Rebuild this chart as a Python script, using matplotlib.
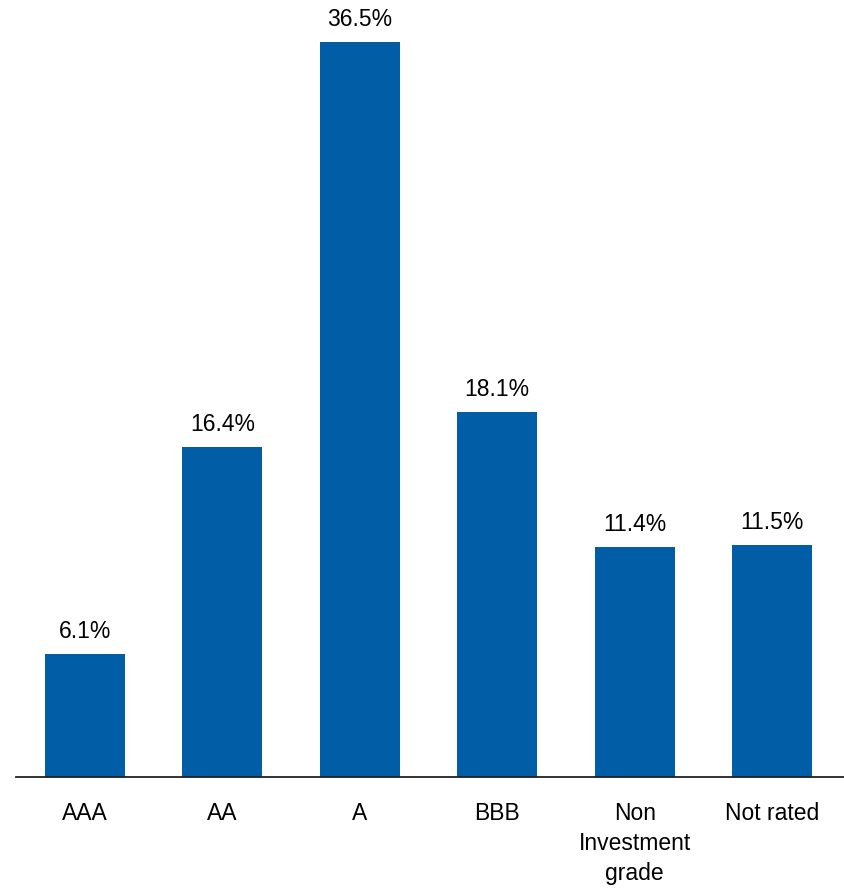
import matplotlib
matplotlib.use('Agg')
import matplotlib.pyplot as plt

# Dados do gráfico
categorias = ['AAA', 'AA', 'A', 'BBB', 'Non\nInvestment\ngrade', 'Not rated']
valores = [6.1, 16.4, 36.5, 18.1, 11.4, 11.5]
rotulos = ['6.1%', '16.4%', '36.5%', '18.1%', '11.4%', '11.5%']

plt.rcParams['font.family'] = ['Liberation Sans', 'DejaVu Sans']

fig = plt.figure(figsize=(8.44, 8.89), dpi=100)
ax = fig.add_axes([16 / 844, 112 / 889, 825 / 844, 777 / 889])

x = range(len(categorias))
barras = ax.bar(x, valores, width=0.58, color='#005DA6')

for b, r in zip(barras, rotulos):
    ax.text(b.get_x() + b.get_width() / 2, b.get_height() + 0.55, r,
            ha='center', va='bottom', fontsize=16.5, color='black')

ax.set_xlim(-0.5, len(categorias) - 0.5)
ax.set_ylim(0, 38.58)
ax.set_xticks(list(x))
ax.set_xticklabels(categorias, fontsize=16.5, linespacing=1.4)
ax.tick_params(axis='x', length=0, pad=18)
ax.set_yticks([])

for s in ['top', 'right', 'left']:
    ax.spines[s].set_visible(False)
ax.spines['bottom'].set_color('#222222')
ax.spines['bottom'].set_linewidth(1.3)
ax.spines['bottom'].set_bounds(-0.5, 5.52)

fig.savefig('out.png', dpi=100)
